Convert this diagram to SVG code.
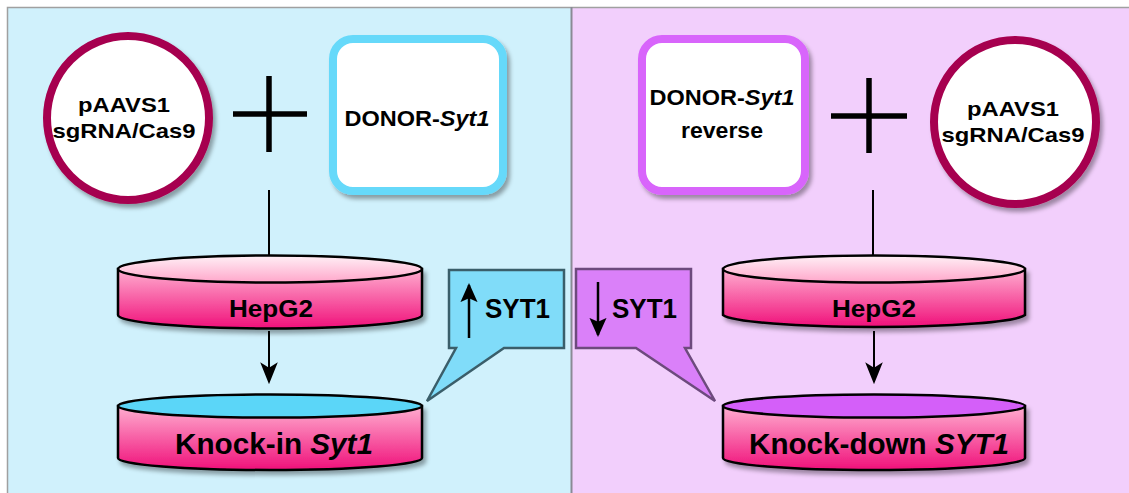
<svg xmlns="http://www.w3.org/2000/svg" width="1129" height="493" viewBox="0 0 1129 493">
  <defs>
    <filter id="sh" x="-20%" y="-20%" width="140%" height="150%">
      <feDropShadow dx="3" dy="4" stdDeviation="2" flood-color="#000" flood-opacity="0.35"/>
    </filter>
    <linearGradient id="body" x1="0" y1="0" x2="0" y2="1">
      <stop offset="0" stop-color="#ffaed0"/>
      <stop offset="1" stop-color="#f0107a"/>
    </linearGradient>
    <linearGradient id="lid" x1="0" y1="0" x2="0" y2="1">
      <stop offset="0" stop-color="#fff0f6"/>
      <stop offset="1" stop-color="#ffa6ca"/>
    </linearGradient>
    <marker id="ah" viewBox="0 0 20 20" refX="18" refY="10" markerWidth="22" markerHeight="22" markerUnits="userSpaceOnUse" orient="auto">
      <path d="M0,2 L20,10 L0,18 L5,10 Z" fill="#000"/>
    </marker>
    <marker id="ahs" viewBox="0 0 20 20" refX="18" refY="10" markerWidth="19" markerHeight="19" markerUnits="userSpaceOnUse" orient="auto">
      <path d="M0,1 L20,10 L0,19 L4,10 Z" fill="#000"/>
    </marker>
  </defs>
  <style>
    .t { font-family: "Liberation Sans", Arial, sans-serif; font-weight: bold; fill: #000; text-anchor: middle; }
    .st { text-anchor: start; }
    .s21 { font-size: 21px; }
    .s22 { font-size: 22px; }
    .s24 { font-size: 24px; }
    .s27 { font-size: 27px; }
    .s30 { font-size: 30px; }
    .circ { fill: #fff; stroke: #a6004f; stroke-width: 8; }
    .cyl { stroke: #000; stroke-width: 2.5; }
    .plus { stroke: #000; stroke-width: 5.5; fill: none; }
    .edge { stroke: #000; stroke-width: 2; fill: none; }
  </style>

  <!-- panels -->
  <rect x="7" y="7" width="565" height="486" fill="#d0f1fc"/>
  <rect x="572" y="7" width="557" height="486" fill="#f2cffc"/>
  <path d="M7.5,493 V7.5 H1129" fill="none" stroke="#a0a0a0" stroke-width="1.5"/>
  <line x1="571.5" y1="7" x2="571.5" y2="493" stroke="#8a8a95" stroke-width="2"/>

  <g id="connectors">
    <line class="edge" x1="269" y1="190" x2="269" y2="274"/>
    <line class="edge" x1="269" y1="331" x2="269" y2="382" marker-end="url(#ah)"/>
    <line class="edge" x1="873" y1="190" x2="873" y2="274"/>
    <line class="edge" x1="874" y1="331" x2="874" y2="382" marker-end="url(#ah)"/>
  </g>

  <g id="plus-left">
    <line class="plus" x1="233" y1="114" x2="307" y2="114"/>
    <line class="plus" x1="269" y1="76" x2="269" y2="152"/>
  </g>
  <g id="plus-right">
    <line class="plus" x1="831" y1="116" x2="907" y2="116"/>
    <line class="plus" x1="869" y1="78" x2="869" y2="153"/>
  </g>

  <g id="pAAVS1-left">
    <ellipse class="circ" cx="128" cy="118" rx="81" ry="82" filter="url(#sh)"/>
    <text class="t s21" x="124" y="112" textLength="92" lengthAdjust="spacingAndGlyphs">pAAVS1</text>
    <text class="t s21" x="124" y="138" textLength="143" lengthAdjust="spacingAndGlyphs">sgRNA/Cas9</text>
  </g>

  <g id="donor-left">
    <rect x="333" y="39" width="170" height="152" rx="20" fill="#fff" stroke="#66d9fa" stroke-width="8" filter="url(#sh)"/>
    <text class="t s22" x="417" y="126" textLength="145" lengthAdjust="spacingAndGlyphs">DONOR-<tspan font-style="italic">Syt1</tspan></text>
  </g>

  <g id="donor-right">
    <rect x="642" y="39" width="163" height="152" rx="20" fill="#fff" stroke="#d865fb" stroke-width="8" filter="url(#sh)"/>
    <text class="t s22" x="722" y="105" textLength="145" lengthAdjust="spacingAndGlyphs">DONOR-<tspan font-style="italic">Syt1</tspan></text>
    <text class="t s22" x="722" y="138" textLength="82" lengthAdjust="spacingAndGlyphs">reverse</text>
  </g>

  <g id="pAAVS1-right">
    <ellipse class="circ" cx="1015" cy="122" rx="81" ry="82" filter="url(#sh)"/>
    <text class="t s21" x="1013" y="116" textLength="92" lengthAdjust="spacingAndGlyphs">pAAVS1</text>
    <text class="t s21" x="1013" y="142" textLength="143" lengthAdjust="spacingAndGlyphs">sgRNA/Cas9</text>
  </g>

  <g id="hepg2-left">
    <path class="cyl" d="M118,269 V315 A152,13.5 0 0 0 422,315 V269 Z" fill="url(#body)" filter="url(#sh)"/>
    <ellipse class="cyl" cx="270" cy="269" rx="152" ry="13.5" fill="url(#lid)"/>
    <text class="t s24" x="271" y="317" textLength="84" lengthAdjust="spacingAndGlyphs">HepG2</text>
  </g>

  <g id="knockin">
    <path class="cyl" d="M118,406 V458 A152,12 0 0 0 422,458 V406 Z" fill="url(#body)" filter="url(#sh)"/>
    <ellipse class="cyl" cx="270" cy="406" rx="152" ry="11.5" fill="#5bd6f8"/>
    <text class="t s30" x="274" y="454" textLength="198" lengthAdjust="spacingAndGlyphs">Knock-in <tspan font-style="italic">Syt1</tspan></text>
  </g>

  <g id="hepg2-right">
    <path class="cyl" d="M723,269 V315 A152,13.5 0 0 0 1025,315 V269 Z" fill="url(#body)" filter="url(#sh)"/>
    <ellipse class="cyl" cx="874" cy="269" rx="151" ry="13.5" fill="url(#lid)"/>
    <text class="t s24" x="874" y="317" textLength="84" lengthAdjust="spacingAndGlyphs">HepG2</text>
  </g>

  <g id="knockdown">
    <path class="cyl" d="M723,406 V458 A151,12 0 0 0 1025,458 V406 Z" fill="url(#body)" filter="url(#sh)"/>
    <ellipse class="cyl" cx="874" cy="406" rx="151" ry="11.5" fill="#d45ff9"/>
    <text class="t s30" x="879" y="454" textLength="260" lengthAdjust="spacingAndGlyphs">Knock-down <tspan font-style="italic">SYT1</tspan></text>
  </g>

  <g id="callout-up">
    <path d="M449,270 H564 V348 H504 L427,401 L456,348 H449 Z" fill="#80dcf9" stroke="#3a5e6a" stroke-width="2.5"/>
    <line x1="469" y1="338" x2="469" y2="285" stroke="#000" stroke-width="2.5" marker-end="url(#ahs)"/>
    <text class="t s27 st" x="485" y="318" textLength="65" lengthAdjust="spacingAndGlyphs">SYT1</text>
  </g>

  <g id="callout-down">
    <path d="M576,269 H691 V348 H685 L715,401 L636,348 H576 Z" fill="#da80f9" stroke="#6d4a7d" stroke-width="2.5"/>
    <line x1="598" y1="282" x2="598" y2="335" stroke="#000" stroke-width="2.5" marker-end="url(#ahs)"/>
    <text class="t s27 st" x="612" y="318" textLength="65" lengthAdjust="spacingAndGlyphs">SYT1</text>
  </g>
</svg>
